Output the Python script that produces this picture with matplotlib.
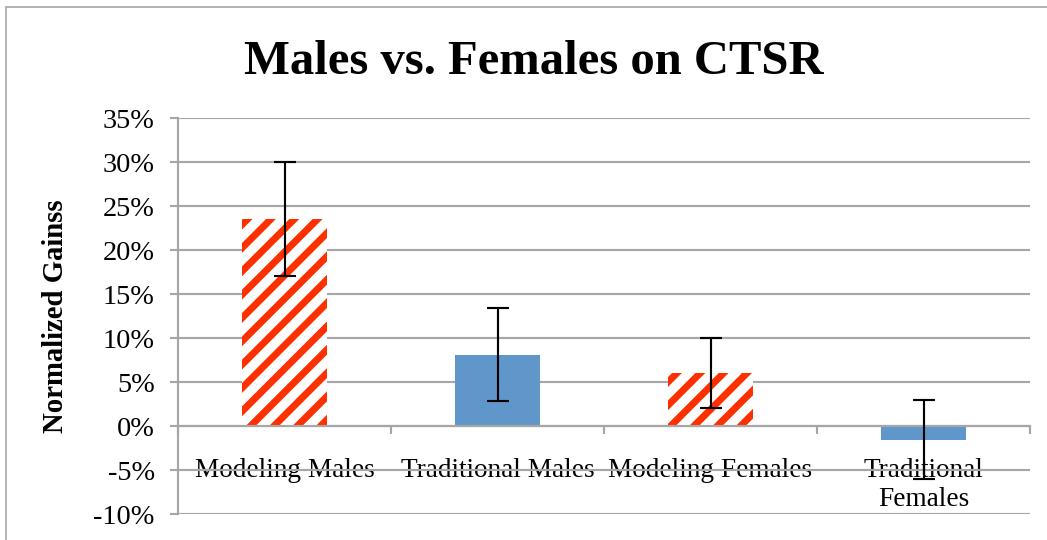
import matplotlib
matplotlib.use('Agg')
import matplotlib.pyplot as plt
from matplotlib.patches import Rectangle
from matplotlib.ticker import FuncFormatter, MultipleLocator

# values (percent)
categories = ['Modeling Males', 'Traditional Males', 'Modeling Females', 'Traditional\nFemales']
gains = [23.5, 8.1, 6.0, -1.55]
errors = [6.5, 5.3, 4.0, 4.5]
yticks = [-10, -5, 0, 5, 10, 15, 20, 25, 30, 35]

W, H, DPI = 1047, 540, 140
GRID = '#A6A6A6'
RED = '#FF3000'
BLUE = '#6097CA'

plt.rcParams['font.family'] = ['Liberation Serif', 'DejaVu Serif']
plt.rcParams['axes.unicode_minus'] = False
plt.rcParams['hatch.linewidth'] = 3.6

fig = plt.figure(figsize=(W / DPI, H / DPI), dpi=DPI)
ax = fig.add_axes([178 / W, 1 - 514 / H, (1030 - 178) / W, (514 - 118) / H])

x = list(range(len(categories)))
for i, (name, v) in enumerate(zip(categories, gains)):
	if name.startswith('Modeling'):
		ax.bar(i, v, width=0.4, facecolor='white', edgecolor=RED, linewidth=0, hatch='//', zorder=2)
	else:
		ax.bar(i, v, width=0.4, color=BLUE, linewidth=0, zorder=2)

ax.errorbar(x, gains, yerr=errors, fmt='none', ecolor='black', elinewidth=1.1,
	capsize=5.5, capthick=1.1, zorder=3)

ax.set_xlim(-0.5, len(categories) - 0.5)
ax.set_ylim(yticks[0], yticks[-1])
ax.yaxis.set_major_locator(MultipleLocator(5))
ax.yaxis.set_major_formatter(FuncFormatter(lambda v, p: f'{v:.0f}%'))
ax.grid(axis='y', color=GRID, linewidth=1.1, zorder=0)
ax.set_axisbelow(True)

ax.set_xticks(x)
ax.set_xticklabels(categories)
ax.set_xticks([i - 0.5 for i in range(len(categories) + 1)], minor=True)
ax.tick_params(axis='x', which='major', length=0, pad=16.5, labelsize=14)
ax.tick_params(axis='x', which='minor', length=4, width=1.1, color=GRID, direction='out')
ax.tick_params(axis='y', length=4, width=1.1, color=GRID, pad=8, labelsize=14.5)

for s in ('top', 'right'):
	ax.spines[s].set_visible(False)
ax.spines['bottom'].set_position(('data', 0))
ax.spines['bottom'].set_color(GRID)
ax.spines['bottom'].set_linewidth(1.1)
ax.spines['left'].set_color(GRID)
ax.spines['left'].set_linewidth(1.1)

ax.set_ylabel('Normalized Gainss', fontsize=14.8, fontweight='bold')
ax.yaxis.set_label_coords((69 - 178) / (1030 - 178), 0.5)

fig.text(534 / W, 1 - 74 / H, 'Males vs. Females on CTSR', ha='center', va='baseline',
	fontsize=25, fontweight='bold')

fig.patches.append(Rectangle((6 / W, -0.1), 1.2, 1.1 - 6.5 / H, transform=fig.transFigure,
	fill=False, edgecolor='#A0A0A0', linewidth=0.8))

fig.savefig('out.png', dpi=DPI)
